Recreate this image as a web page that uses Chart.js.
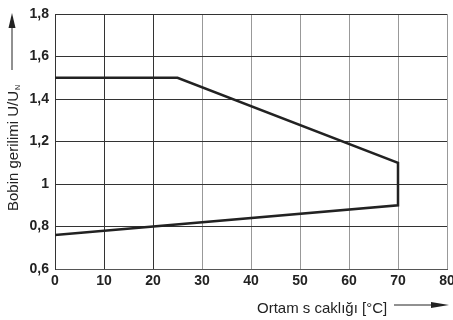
<!DOCTYPE html>
<html>
<head>
<meta charset="utf-8">
<script src="https://cdn.jsdelivr.net/npm/chart.js@4"></script>
<style>
    html, body { margin: 0; padding: 0; background: #fff; }
    #wrap { width: 453px; height: 320px; }
</style>
</head>
<body>
<div id="wrap"><canvas id="bobinChart"></canvas></div>
<script>
// Sınır eğrisi: ortam sıcaklığı (°C) ve bobin gerilimi oranı U/UN
const ortamSicakligi = [0, 25, 70, 70, 0];
const gerilimOrani = [1.5, 1.5, 1.1, 0.9, 0.76];

const xTicks = [0, 10, 20, 30, 40, 50, 60, 70, 80];
const yTicks = [0.6, 0.8, 1.0, 1.2, 1.4, 1.6, 1.8];

const yEtiket = 'Bobin gerilimi U/U';
const yAltIndis = 'N';
const xEtiket = 'Ortam s caklığı [°C]';

const fontAile = "'Liberation Sans', Arial, sans-serif";
const koyu = '#222';

// Eksen başlıkları ve oklar
const eksenYazilari = {
    id: 'eksenYazilari',
    afterDraw(chart) {
        const ctx = chart.ctx;
        const area = chart.chartArea;
        ctx.save();
        ctx.fillStyle = koyu;
        ctx.strokeStyle = koyu;
        ctx.lineWidth = 1;

        // dikey eksen başlığı
        ctx.save();
        ctx.translate(18, 211);
        ctx.rotate(-Math.PI / 2);
        ctx.font = '15px ' + fontAile;
        ctx.textAlign = 'left';
        ctx.textBaseline = 'alphabetic';
        ctx.fillText(yEtiket, 0, 0);
        const w = ctx.measureText(yEtiket).width;
        ctx.font = '7px ' + fontAile;
        ctx.fillText(yAltIndis, w + 1, 2);
        ctx.restore();

        // yukarı ok
        ctx.beginPath();
        ctx.moveTo(12, 70);
        ctx.lineTo(12, 24);
        ctx.stroke();
        ctx.beginPath();
        ctx.moveTo(12, area.top - 1);
        ctx.lineTo(8.5, 28);
        ctx.lineTo(15.5, 28);
        ctx.closePath();
        ctx.fill();

        // yatay eksen başlığı
        ctx.font = '15px ' + fontAile;
        ctx.textAlign = 'left';
        ctx.textBaseline = 'middle';
        ctx.fillText(xEtiket, 257, 309);

        // sağa ok
        ctx.beginPath();
        ctx.moveTo(394, 305);
        ctx.lineTo(440, 305);
        ctx.stroke();
        ctx.beginPath();
        ctx.moveTo(449, 305);
        ctx.lineTo(431, 302);
        ctx.lineTo(431, 308);
        ctx.closePath();
        ctx.fill();
        ctx.restore();
    }
};

const ctx = document.getElementById('bobinChart').getContext('2d');
new Chart(ctx, {
    type: 'line',
    data: {
        datasets: [{
            data: ortamSicakligi.map((t, i) => ({ x: t, y: gerilimOrani[i] })),
            borderColor: koyu,
            borderWidth: 2.5,
            pointRadius: 0,
            tension: 0,
            fill: false
        }]
    },
    options: {
        responsive: true,
        maintainAspectRatio: false,
        animation: false,
        layout: { padding: { top: 14, right: 6, left: 0, bottom: 0 } },
        plugins: {
            legend: { display: false },
            tooltip: { enabled: false }
        },
        scales: {
            x: {
                type: 'linear',
                min: 0,
                max: 80,
                afterBuildTicks: (scale) => { scale.ticks = xTicks.map(v => ({ value: v })); },
                afterFit: (scale) => {
                    scale.height = 51;
                    scale.paddingLeft = 0;
                    scale.paddingRight = 0;
                },
                ticks: {
                    color: koyu,
                    padding: 4,
                    font: { family: fontAile, size: 14, weight: 'bold' },
                    callback: (v) => String(v)
                },
                grid: {
                    color: (c) => (c.tick && c.tick.value <= 20 ? '#333' : '#999'),
                    lineWidth: 1,
                    drawTicks: false
                },
                border: { color: '#555', width: 1 }
            },
            y: {
                type: 'linear',
                min: 0.6,
                max: 1.8,
                afterBuildTicks: (scale) => { scale.ticks = yTicks.map(v => ({ value: v })); },
                afterFit: (scale) => {
                    scale.width = 55;
                    scale.paddingTop = 0;
                    scale.paddingBottom = 0;
                },
                ticks: {
                    color: koyu,
                    padding: 6,
                    font: { family: fontAile, size: 14, weight: 'bold' },
                    callback: (v) => String(Math.round(v * 10) / 10).replace('.', ',')
                },
                grid: {
                    color: '#333',
                    lineWidth: 1,
                    drawTicks: false
                },
                border: { color: '#333', width: 1 }
            }
        }
    },
    plugins: [eksenYazilari]
});
</script>
</body>
</html>
